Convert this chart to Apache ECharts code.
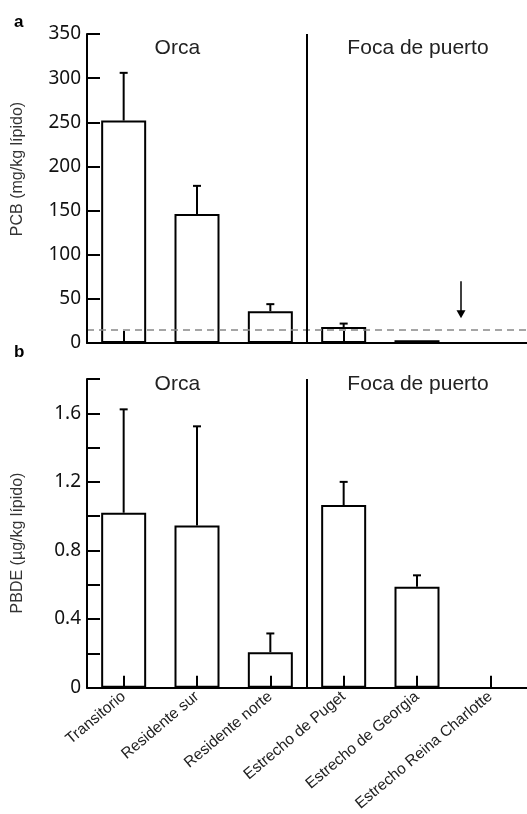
<!DOCTYPE html>
<html>
<head>
<meta charset="utf-8">
<script src="https://cdn.jsdelivr.net/npm/echarts@6/dist/echarts.min.js"></script>
<style>html,body{margin:0;padding:0;background:#fff}#c{width:527px;height:814px}</style>
</head>
<body>
<div id="c"></div>
<script>
var categories = ['Transitorio', 'Residente sur', 'Residente norte', 'Estrecho de Puget', 'Estrecho de Georgia', 'Estrecho Reina Charlotte'];
var pcbMean = [252, 146, 36, 18, 3, null];
var pcbUpper = [306, 178, 44, 22, null, null];
var pbdeMean = [1.02, 0.945, 0.207, 1.065, 0.588, null];
var pbdeUpper = [1.623, 1.524, 0.316, 1.2, 0.655, null];
var pcbTicks = [0, 350, 50];
var pbdeTicks = [0, 1.8, 0.2];
var pcbThreshold = 15;
var groupNames = ['Orca', 'Foca de puerto'];

var chart = echarts.init(document.getElementById('c'));
var tickFont = 'Noto Sans, Liberation Sans, sans-serif';
var textFont = 'Liberation Sans, Arial, sans-serif';

function errItem(params, api) {
  var i = api.value(0);
  var top = api.value(2);
  if (top == null || isNaN(top)) return;
  var p0 = api.coord([i, api.value(1)]);
  var p1 = api.coord([i, top]);
  return {
    type: 'group',
    children: [
      {type: 'line', shape: {x1: p0[0], y1: p0[1], x2: p1[0], y2: p1[1]}, style: {stroke: '#000', lineWidth: 2}},
      {type: 'line', shape: {x1: p1[0] - 4, y1: p1[1], x2: p1[0] + 4, y2: p1[1]}, style: {stroke: '#000', lineWidth: 2}}
    ]
  };
}
function errData(mean, upper) {
  var out = [];
  for (var i = 0; i < mean.length; i++) {
    if (mean[i] != null && upper[i] != null) out.push([i, mean[i], upper[i]]);
  }
  return out;
}

var xCommon = {
  type: 'category', data: categories, z: 10,
  axisLine: {show: true, lineStyle: {color: '#000', width: 2}},
  axisTick: {show: true, inside: true, alignWithLabel: true, length: 12, lineStyle: {color: '#000', width: 2}},
  splitLine: {show: false}
};
var yCommon = {
  type: 'value', z: 10,
  axisLine: {show: true, lineStyle: {color: '#000', width: 2}},
  axisTick: {show: true, inside: true, length: 13, lineStyle: {color: '#000', width: 2}},
  splitLine: {show: false},
  axisLabel: {color: '#111', fontSize: 19, fontFamily: tickFont, margin: 6}
};

var option = {
  animation: false,
  grid: [
    {left: 87, top: 34, width: 444, height: 309},
    {left: 87, top: 379, width: 444, height: 309}
  ],
  xAxis: [
    Object.assign({}, xCommon, {gridIndex: 0, axisLabel: {show: false}}),
    Object.assign({}, xCommon, {gridIndex: 1, axisLabel: {show: true, rotate: 40, interval: 0, fontSize: 15.5, fontFamily: textFont, color: '#222', margin: 7}})
  ],
  yAxis: [
    Object.assign({}, yCommon, {gridIndex: 0, min: pcbTicks[0], max: pcbTicks[1], interval: pcbTicks[2]}),
    Object.assign({}, yCommon, {gridIndex: 1, min: pbdeTicks[0], max: pbdeTicks[1], interval: pbdeTicks[2],
      axisLabel: Object.assign({}, yCommon.axisLabel, {formatter: function (v) {
        var k = Math.round(v * 10);
        if (k % 4 !== 0 || k > 16) return '';
        return k === 0 ? '0' : (v).toFixed(1);
      }})})
  ],
  series: [
    {type: 'bar', xAxisIndex: 0, yAxisIndex: 0, data: pcbMean, barWidth: 45, z: 1,
      itemStyle: {color: '#fff', borderColor: '#000', borderWidth: 2},
      markLine: {symbol: 'none', silent: true, label: {show: false},
        lineStyle: {color: '#888', type: [7, 5], width: 1.5},
        data: [{yAxis: pcbThreshold}]}},
    {type: 'custom', xAxisIndex: 0, yAxisIndex: 0, renderItem: errItem, data: errData(pcbMean, pcbUpper), z: 3},
    {type: 'bar', xAxisIndex: 1, yAxisIndex: 1, data: pbdeMean, barWidth: 45, z: 1,
      itemStyle: {color: '#fff', borderColor: '#000', borderWidth: 2}},
    {type: 'custom', xAxisIndex: 1, yAxisIndex: 1, renderItem: errItem, data: errData(pbdeMean, pbdeUpper), z: 3}
  ]
};
chart.setOption(option);

function px(gi, xv, yv) {
  return chart.convertToPixel({xAxisIndex: gi, yAxisIndex: gi}, [xv, yv]);
}
var g = [];
[0, 1].forEach(function (gi) {
  var top = gi === 0 ? pcbTicks[1] : pbdeTicks[1];
  var a = px(gi, 2, 0), b = px(gi, 3, 0), t = px(gi, 2, top);
  var sx = (a[0] + b[0]) / 2;
  g.push({type: 'line', shape: {x1: sx, y1: t[1], x2: sx, y2: a[1]}, style: {stroke: '#000', lineWidth: 2}, z: 10});
  var c1 = px(gi, 0, 0), c2 = px(gi, 1, 0), c4 = px(gi, 4, 0);
  var ty = t[1] + (gi === 0 ? 14 : 5);
  g.push({type: 'text', x: (c1[0] + c2[0]) / 2 + 17, y: ty, style: {text: groupNames[0], font: '21px ' + textFont, fill: '#222', textAlign: 'center', textVerticalAlign: 'middle'}});
  g.push({type: 'text', x: c4[0] + 1, y: ty, style: {text: groupNames[1], font: '21px ' + textFont, fill: '#222', textAlign: 'center', textVerticalAlign: 'middle'}});
});
// arrow indicating missing PCB value
var a4 = px(0, 4, 0), a5 = px(0, 5, 0);
var ax = a4[0] + (a5[0] - a4[0]) * 0.6;
var ay0 = px(0, 4, 70)[1], ay1 = px(0, 4, 28)[1];
g.push({type: 'line', shape: {x1: ax, y1: ay0, x2: ax, y2: ay1 - 6}, style: {stroke: '#000', lineWidth: 1.5}});
g.push({type: 'polygon', shape: {points: [[ax - 4.5, ay1 - 8], [ax + 4.5, ay1 - 8], [ax, ay1]]}, style: {fill: '#000'}});
// panel letters and axis titles
g.push({type: 'text', x: 14, y: 22, style: {text: 'a', font: 'bold 17px ' + textFont, fill: '#000', textAlign: 'left', textVerticalAlign: 'middle'}});
g.push({type: 'text', x: 14, y: 352, style: {text: 'b', font: 'bold 17px ' + textFont, fill: '#000', textAlign: 'left', textVerticalAlign: 'middle'}});
g.push({type: 'text', x: 18, y: 169, rotation: Math.PI / 2, style: {text: 'PCB (mg/kg lípido)', font: '16px ' + textFont, fill: '#333', textAlign: 'center', textVerticalAlign: 'middle'}});
g.push({type: 'text', x: 18, y: 543, rotation: Math.PI / 2, style: {text: 'PBDE (µg/kg lípido)', font: '16px ' + textFont, fill: '#333', textAlign: 'center', textVerticalAlign: 'middle'}});
chart.setOption({graphic: g});
</script>
</body>
</html>
